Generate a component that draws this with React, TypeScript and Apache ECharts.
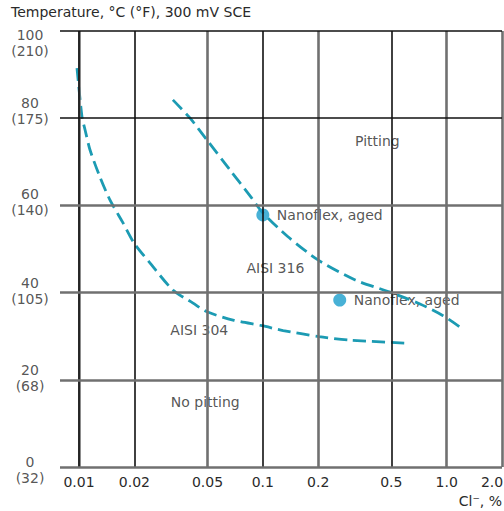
import React, { useEffect, useRef } from "react";
import * as echarts from "echarts";

// ---- data ----
const xTicks = [0.01, 0.02, 0.05, 0.1, 0.2, 0.5, 1.0, 2.0];
const xTickLabels = ["0.01", "0.02", "0.05", "0.1", "0.2", "0.5", "1.0", "2.0"];
const yTicks = [0, 20, 40, 60, 80, 100];
const yTicksF = [32, 68, 105, 140, 175, 210];

const aisi304X = [0.00975, 0.01038, 0.01079, 0.01148, 0.013, 0.01475, 0.01735, 0.0199, 0.0243, 0.0324, 0.0417, 0.0497, 0.0688, 0.099, 0.129, 0.202, 0.298, 0.609];
const aisi304Y = [91.5, 80.3, 77.3, 72.7, 66.5, 61.2, 56.0, 51.4, 46.8, 40.6, 37.6, 35.6, 33.7, 32.4, 31.3, 29.9, 29.1, 28.4];

const aisi316X = [0.0324, 0.0402, 0.0497, 0.0663, 0.0852, 0.099, 0.137, 0.1995, 0.318, 0.492, 0.716, 0.956, 1.18];
const aisi316Y = [84.2, 80.0, 75.0, 68.1, 62.2, 58.5, 52.8, 47.5, 42.9, 40.1, 37.4, 34.7, 32.1];

const nanoflexX = [0.1, 0.262];
const nanoflexY = [57.8, 38.3];
const nanoflexLabel = "Nanoflex, aged";

const regionNames = ["Pitting", "AISI 316", "AISI 304", "No pitting"];
const regionX = [0.42, 0.117, 0.0451, 0.0486];
const regionY = [74.8, 45.6, 31.4, 14.9];

const X_MIN = 0.00788;
const X_MAX = 2.0;
const Y_MIN = 0;
const Y_MAX = 100;

const FONT = "'DejaVu Sans', 'Liberation Sans', Arial, sans-serif";
const TEXT = "#2a2a2a";
const CURVE = "#1c9bb3";
const DOT = "#1a9dcc";
const DARK = { color: "#111111", width: 1.6, type: "solid" as const };
const GRAY = { color: "#707070", width: 2.6, type: "solid" as const };

export default function App() {
  const ref = useRef<HTMLDivElement>(null);

  useEffect(() => {
    document.body.style.margin = "0";
    if (!ref.current) return;
    const chart = echarts.init(ref.current, undefined, { renderer: "svg" });

    const darkX = new Set(["0.02", "0.1", "0.5"]);
    const darkY = new Set([80, 100]);
    // vertical nudges of the two-line y labels, as in the reference
    const yLabelNudge: Record<number, number> = { 0: 3, 20: -2, 40: -2, 60: -3, 80: -7, 100: 12 };

    const vLines: any[] = xTicks.map((v, i) => ({
      xAxis: i === xTicks.length - 1 ? X_MAX : v,
      lineStyle: darkX.has(xTickLabels[i]) ? DARK : GRAY,
      label: {
        show: true,
        position: "start",
        distance: 8,
        formatter: xTickLabels[i],
        color: TEXT,
        fontSize: 14,
        fontFamily: FONT,
        offset: i === xTicks.length - 1 ? [-10, 0] : [0, 0],
      },
    }));
    vLines.push({ xAxis: X_MIN, lineStyle: DARK, label: { show: false } });

    const hLines: any[] = yTicks.map((v) => ({
      yAxis: v,
      lineStyle: darkY.has(v) ? DARK : GRAY,
      label: { show: false },
    }));

    const lineStyle = { color: CURVE, width: 2.8, type: [13, 6] };

    const option: any = {
      animation: false,
      textStyle: { fontFamily: FONT },
      grid: { left: 60, right: 2, top: 31, bottom: 44, containLabel: false },
      xAxis: {
        type: "log",
        logBase: 10,
        min: X_MIN,
        max: X_MAX,
        axisLine: { show: false },
        axisTick: { show: false },
        axisLabel: { show: false },
        splitLine: { show: false },
        minorSplitLine: { show: false },
      },
      yAxis: {
        type: "value",
        min: Y_MIN,
        max: Y_MAX,
        interval: 20,
        axisLine: { show: false },
        axisTick: { show: false },
        splitLine: { show: false },
        axisLabel: { show: false },
      },
      graphic: [
        {
          type: "text",
          left: 11,
          top: 5,
          style: {
            text: "Temperature, °C (°F), 300 mV SCE",
            fill: TEXT,
            font: `14px ${FONT}`,
          },
        },
        {
          type: "text",
          right: 2,
          top: 494,
          style: {
            text: "Cl⁻, %",
            fill: TEXT,
            font: `14px ${FONT}`,
          },
        },
      ],
      series: [
        {
          type: "line",
          data: [],
          z: 1,
          silent: true,
          markLine: {
            silent: true,
            symbol: ["none", "none"],
            animation: false,
            data: [...vLines, ...hLines],
          },
        },
        {
          name: "yLabels",
          type: "scatter",
          z: 2,
          silent: true,
          symbolSize: 0,
          data: yTicks.map((v, i) => ({
            value: [X_MIN, v],
            name: `${v}\n(${yTicksF[i]})`,
            label: { offset: [-30, yLabelNudge[v] || 0] },
          })),
          label: {
            show: true,
            position: "inside",
            align: "center",
            formatter: (p: any) => p.name,
            color: TEXT,
            fontSize: 14,
            lineHeight: 16,
            fontFamily: FONT,
          },
        },
        {
          name: "AISI 304",
          type: "line",
          z: 3,
          smooth: 0.25,
          showSymbol: false,
          symbol: "none",
          lineStyle,
          data: aisi304X.map((x, i) => [x, aisi304Y[i]]),
        },
        {
          name: "AISI 316",
          type: "line",
          z: 3,
          smooth: 0.25,
          showSymbol: false,
          symbol: "none",
          lineStyle,
          data: aisi316X.map((x, i) => [x, aisi316Y[i]]),
        },
        {
          name: "labels",
          type: "scatter",
          z: 2,
          silent: true,
          symbolSize: 0,
          data: nanoflexX.map((x, i) => [x, nanoflexY[i]]),
          label: {
            show: true,
            position: "right",
            distance: 12,
            formatter: nanoflexLabel,
            color: TEXT,
            fontSize: 14,
            fontFamily: FONT,
            backgroundColor: "#ffffff",
            padding: [1, 2],
          },
        },
        {
          name: "Nanoflex, aged",
          type: "scatter",
          z: 4,
          symbol: "circle",
          symbolSize: 13,
          itemStyle: { color: DOT },
          data: nanoflexX.map((x, i) => [x, nanoflexY[i]]),
        },
        {
          name: "regions",
          type: "scatter",
          z: 2,
          silent: true,
          symbolSize: 0,
          data: regionX.map((x, i) => ({ value: [x, regionY[i]], name: regionNames[i] })),
          label: {
            show: true,
            position: "inside",
            formatter: (p: any) => p.name,
            color: TEXT,
            fontSize: 14,
            fontFamily: FONT,
            backgroundColor: "#ffffff",
            padding: [2, 2],
          },
        },
      ],
    };

    chart.setOption(option);
    return () => chart.dispose();
  }, []);

  return <div ref={ref} style={{ width: 504, height: 511 }} />;
}
